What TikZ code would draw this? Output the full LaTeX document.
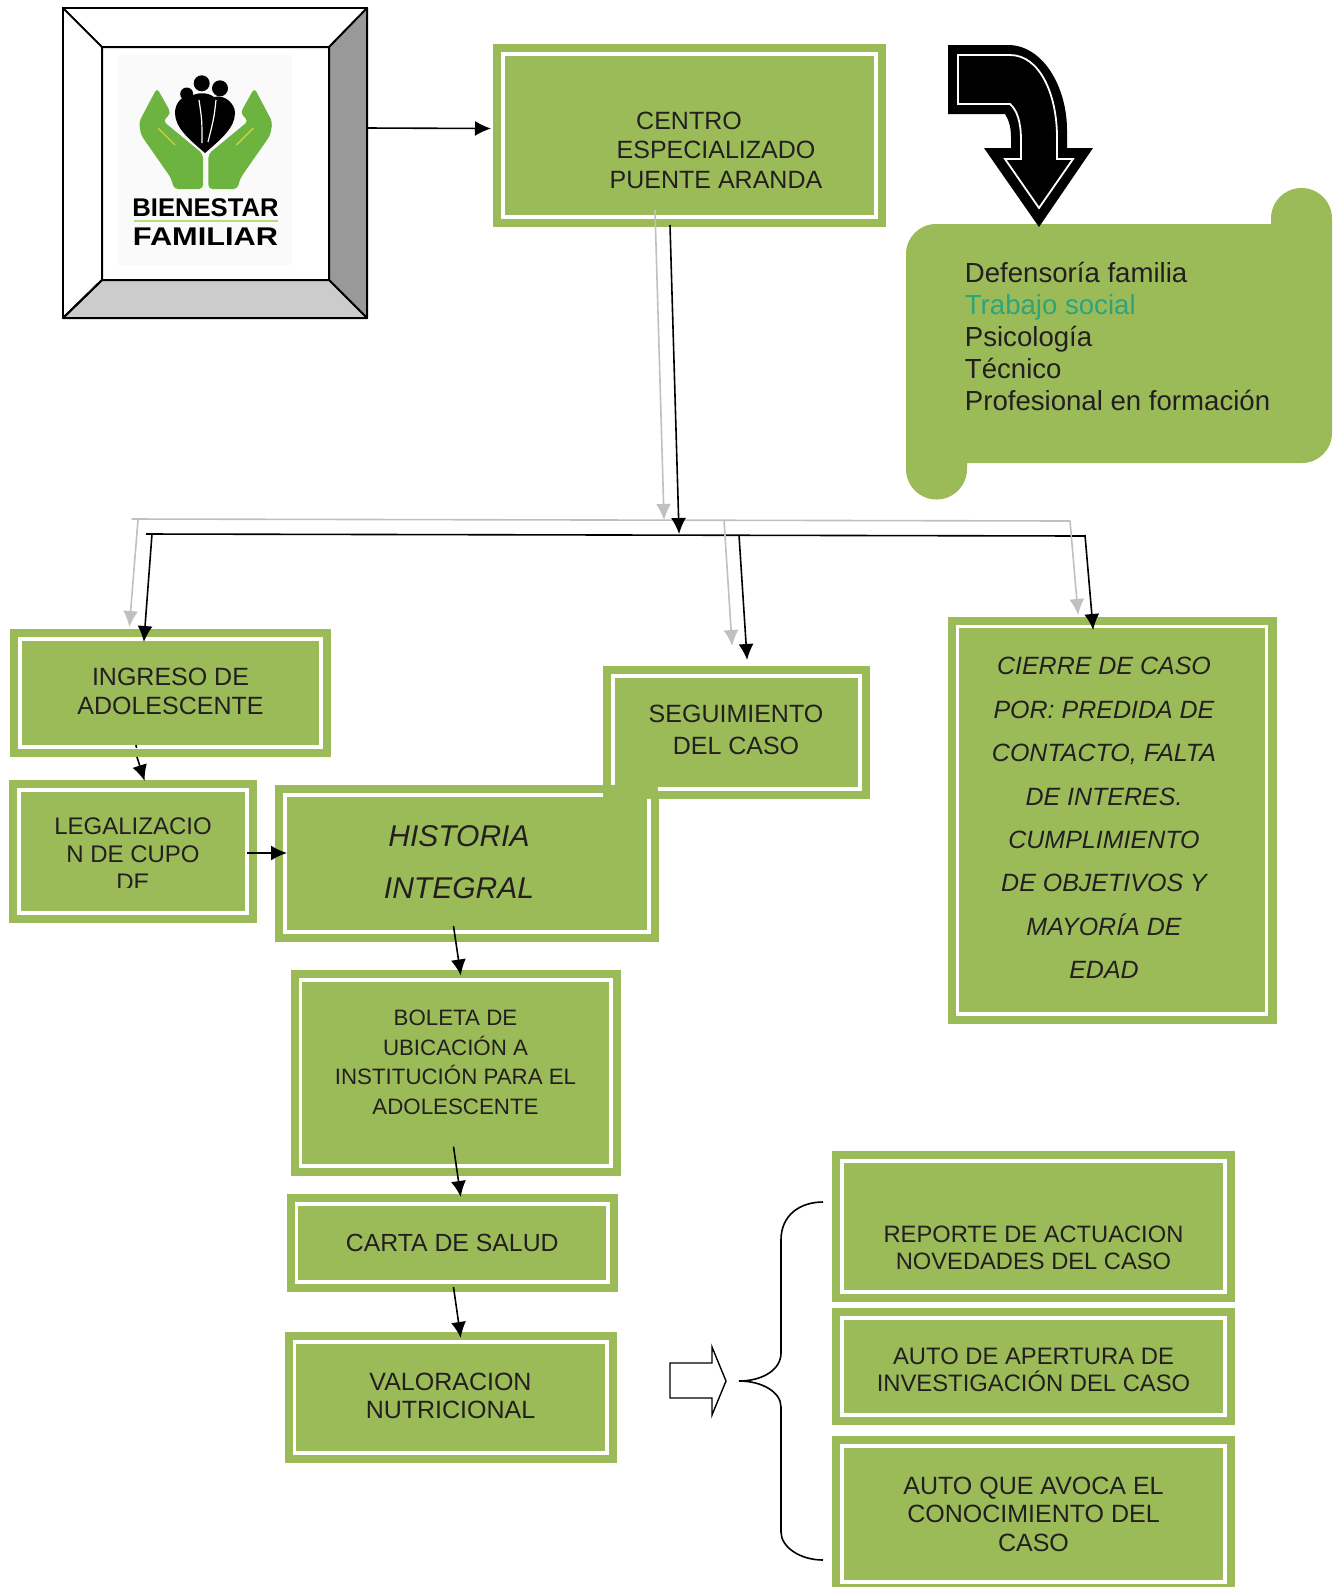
\documentclass[tikz,border=0pt]{standalone}
\usepackage{fontspec}
\usepackage{graphicx}
\setmainfont{Liberation Sans}
\usetikzlibrary{arrows.meta,calc}
\definecolor{verdecaja}{HTML}{9BBB59}
\definecolor{verdemano}{HTML}{6DB33F}
\definecolor{tinta}{HTML}{231F20}
\definecolor{verdetrabajo}{HTML}{2FA37A}
\definecolor{grisflecha}{HTML}{C0C0C0}
\tikzset{
  caja/.style 2 args={rectangle,draw=white,fill=verdecaja,line width=1.75pt,outer sep=0pt,
    minimum width=#1pt,minimum height=#2pt,inner sep=0pt,text=tinta,
    preaction={draw=verdecaja,line width=10pt}},
  letra/.style 2 args={font=\fontsize{#1}{#2}\selectfont,align=center,text=tinta},
  flecha/.style={-{Latex[length=8pt,width=7.5pt]},line width=.8pt,black,shorten >=-1pt},
  flechagris/.style={-{Latex[length=8pt,width=7.5pt]},line width=.8pt,grisflecha,shorten >=-1pt},
}
\begin{document}
\begin{tikzpicture}[x=0.5pt,y=-0.5pt]
\useasboundingbox (0,0) rectangle (1341,1587);
\clip (0,0) rectangle (1341,1587);
% marco del logo
\node[draw,line width=1pt,fill=white,minimum width=152pt,minimum height=155pt,outer sep=0pt] (marco) at (215,163) {};
\node[minimum width=113.5pt,minimum height=116.5pt,outer sep=0pt] (marcoin) at (215.5,163.5) {};
\filldraw[line width=1pt,line join=round,fill=black!40] (marco.north east) -- (marcoin.north east) -- (marcoin.south east) -- (marco.south east) -- cycle;
\filldraw[line width=1pt,line join=round,fill=black!20] (marco.south west) -- (marcoin.south west) -- (marcoin.south east) -- (marco.south east) -- cycle;
\draw[line width=1pt] (marco.north west) -- (marcoin.north west) -- (marcoin.north east);
\draw[line width=1pt] (marcoin.north west) -- (marcoin.south west) -- (marco.south west);
% logo
\fill[black!2] (118,55) rectangle (292,265);
\begin{scope}
\fill[verdemano,rounded corners=2pt] (157,88) -- (171,113) -- (163,121) -- (203,154) -- (203,189) -- (174,189) -- (171,178) -- (141,135) -- (139,122) -- cycle;
\draw[yellow!60!verdemano,line width=.7pt] (158,128) -- (175,145);
\end{scope}
\begin{scope}[xscale=-1,xshift=-205.7pt]
\fill[verdemano,rounded corners=2pt] (157,88) -- (171,113) -- (163,121) -- (203,154) -- (203,189) -- (174,189) -- (171,178) -- (141,135) -- (139,122) -- cycle;
\draw[yellow!60!verdemano,line width=.7pt] (158,128) -- (175,145);
\end{scope}
\fill[black] (205,153) .. controls (190,140) and (175,128) .. (175,113) .. controls (175,103) and (182,95) .. (190,97) .. controls (196,92) and (208,92) .. (214,97) .. controls (225,94) and (235,104) .. (235,113) .. controls (235,128) and (220,140) .. (205,153) -- cycle;
\fill[black] (201.7,83.3) circle (8);
\fill[black] (186.7,94) circle (6.5);
\fill[black] (220,88.3) circle (8);
\draw[white,line width=.6pt] (199,100) .. controls (202,120) .. (202,143);
\draw[white,line width=.6pt] (216,100) .. controls (214,118) .. (208,142);
\draw[yellow!30,line width=.7pt] (205.7,153) -- (205.7,189);
\draw[yellow!50!green!60,line width=.6pt] (134,221) -- (278,221);
\node[font=\bfseries\fontsize{12.8}{14}\selectfont,inner sep=0pt] (bienestar) at (205.5,207.5) {BIENESTAR};
\node[font=\bfseries\fontsize{12.8}{14}\selectfont,inner sep=0pt] (familiar) at (205.5,236.5) {\scalebox{1.2}[1]{FAMILIAR}};
% cajas de arriba
\node[caja={186.5}{81.5}] (centro) at (689.5,135.5) {};
\node[letra={12.5}{14.75}] (centrotexto) at (716,150) {\hspace*{-27pt}CENTRO\\ESPECIALIZADO\\PUENTE ARANDA};
% pergamino
\fill[verdecaja] (906,254) arc[start angle=180,end angle=270,radius=30] -- (1271,224) -- (1271,218.5) arc[start angle=180,end angle=360,radius=30.5] -- (1332,433) arc[start angle=0,end angle=90,radius=30] -- (967,463) -- (967,469) arc[start angle=0,end angle=180,radius=30.5] -- cycle;
\node[font=\fontsize{13.8}{16}\selectfont,align=left,anchor=west,inner sep=0pt,text=tinta] (equipo) at (964.5,336.5) {Defensoría familia\\\textcolor{verdetrabajo}{Trabajo social}\\Psicología\\Técnico\\Profesional en formación};
% flecha curva
\fill[black] (948,45) -- (1008,45) .. controls (1043,45) and (1067,87) .. (1067,130) -- (1067,148) -- (1093,148) -- (1039,227) -- (984,148) -- (1011,148) -- (1011,137) .. controls (1011,128) and (1009,120) .. (1005,114) -- (948,114) -- cycle;
\draw[white,line width=.9pt,miter limit=6] (958,55) -- (1010,55) .. controls (1040,55) and (1057,95) .. (1057,137) -- (1057,159) -- (1073,159) -- (1039,208) -- (1005,159) -- (1021,159) -- (1021,140) .. controls (1021,122) and (1017,110) .. (1010,104) -- (958,104) -- cycle;
% flechas bajo las cajas
\node[caja={150.5}{54}] (ingreso) at (170.5,693) {};
\node[letra={12.5}{14.5}] (ingresotexto) at (170.5,691.5) {INGRESO DE\\ADOLESCENTE};
\node[caja={114}{61.5}] (legal) at (133,851.5) {};
\begin{scope}
\clip (19,790) rectangle (247,887);
\node[letra={12}{14}] (legaltexto) at (133,854) {LEGALIZACIO\\N DE CUPO\\DE};
\end{scope}
\node[caja={182}{68.5}] (historia) at (467,863.5) {};
\node[letra={15}{26},font=\itshape\fontsize{15}{26}\selectfont] (historiatexto) at (459,862) {HISTORIA\\INTEGRAL};
\node[caja={123.5}{56.5}] (seguimiento) at (736.5,732.5) {};
\node[letra={12.5}{15.75}] (seguimientotexto) at (736,730) {SEGUIMIENTO\\DEL CASO};
\fill[verdecaja] (604,785) rectangle (658,799);
\node[caja={154.5}{193.75}] (cierre) at (1112,820.25) {};
\node[letra={12.5}{21.7},font=\itshape\fontsize{12.5}{21.7}\selectfont] (cierretexto) at (1104,818) {CIERRE DE CASO\\POR: PREDIDA DE\\CONTACTO, FALTA\\DE INTERES.\\CUMPLIMIENTO\\DE OBJETIVOS Y\\MAYORÍA DE\\EDAD};
\node[caja={155.25}{93}] (boleta) at (455.75,1073) {};
\node[letra={11.15}{14.75}] (boletatexto) at (455.5,1062.5) {BOLETA DE\\UBICACIÓN A\\INSTITUCIÓN PARA EL\\ADOLESCENTE};
\node[caja={155.75}{39},letra={12.4}{14}] (carta) at (452.25,1243) {CARTA DE SALUD};
\node[caja={156.25}{55.5}] (valoracion) at (450.75,1397.5) {};
\node[letra={12.5}{14.25}] (valoraciontexto) at (450.5,1396) {VALORACION\\NUTRICIONAL};
\node[caja={191.5}{65.5}] (reporte) at (1033.5,1226.5) {};
\node[letra={11.85}{13.5}] (reportetexto) at (1033.5,1247.5) {REPORTE DE ACTUACION\\NOVEDADES DEL CASO};
\node[caja={191.5}{48.5}] (apertura) at (1033.5,1366.5) {};
\node[letra={11.9}{13.5}] (aperturatexto) at (1033.5,1369.5) {AUTO DE APERTURA DE\\INVESTIGACIÓN DEL CASO};
\node[caja={191.5}{68},letra={12.5}{14.25}] (avoca) at (1033.5,1514) {AUTO QUE AVOCA EL\\CONOCIMIENTO DEL\\CASO};
% barras
\coordinate (grisa) at (131.5,519);
\coordinate (grisb) at (1070,521);
\coordinate (negroa) at (146,534);
\coordinate (negrob) at (1085,536);
\coordinate (grisc) at (664,518);
\coordinate (negroc) at (679,532);
\coordinate (grisd) at (138,520);
\coordinate (grise) at (724,520);
\coordinate (grisf) at (1070,521);
\coordinate (negrod) at (152,534);
\coordinate (negroe) at (739,535);
\coordinate (negrof) at (1085,535);
\draw[grisflecha,line width=.8pt] (grisa) -- (grisb);
\draw[black,line width=.8pt] (negroa) -- (negrob);
\draw[flechagris] ($(centro.south)+(-34.5,-7)$) -- (grisc);
\draw[flechagris] (grisd) -- ($(ingreso.north)+(-41,-14)$);
\draw[flechagris] (grise) -- ($(seguimiento.north)+(-4.5,-32)$);
\draw[flechagris] (grisf) -- ($(cierre.north)+(-34,-13.5)$);
\draw[flecha] ($(marco.east)+(0,-35)$) -- ($(centro.west)+(-14,-7)$);
\draw[flecha] ($(centro.south)+(-19.5,8)$) -- (negroc);
\draw[flecha] (negrod) -- ($(ingreso.north)+(-26.5,1)$);
\draw[flecha] (negroe) -- ($(seguimiento.north)+(10.5,-18)$);
\draw[flecha] (negrof) -- ($(cierre.north)+(-19,1.5)$);
\draw[line width=.8pt] ($(ingreso.south)+(-34.5,-2)$) -- ($(ingreso.south)+(-34,1)$);
\draw[flecha] ($(ingreso.south)+(-33.5,10)$) -- ($(legal.north)+(11,-11)$);
\draw[flecha] ($(legal.east)+(0,1.5)$) -- ($(historia.west)+(0,-10.5)$);
\draw[flecha] ($(historia.south)+(-13.5,-6)$) -- ($(boleta.north)+(4.75,-6.5)$);
\draw[flecha] ($(boleta.south)+(-2.25,-19.4)$) -- ($(carta.north)+(8.25,-9)$);
\draw[flecha] ($(carta.south)+(1.25,5)$) -- ($(valoracion.north)+(9.75,-6)$);
% flecha hueca y llave
\draw[line width=.7pt,fill=white] (670,1363) -- (712,1363) -- (712,1347) -- (726,1381) -- (712,1415) -- (712,1398) -- (670,1398) -- cycle;
\draw[line width=.8pt] (823,1202) .. controls (800,1202) and (781,1215) .. (781,1240) -- (781,1353) .. controls (781,1370) and (762,1381) .. (739,1381) .. controls (762,1381) and (781,1392) .. (781,1407) -- (781,1532) .. controls (781,1547) and (800,1560) .. (823,1560);
\end{tikzpicture}
\end{document}
